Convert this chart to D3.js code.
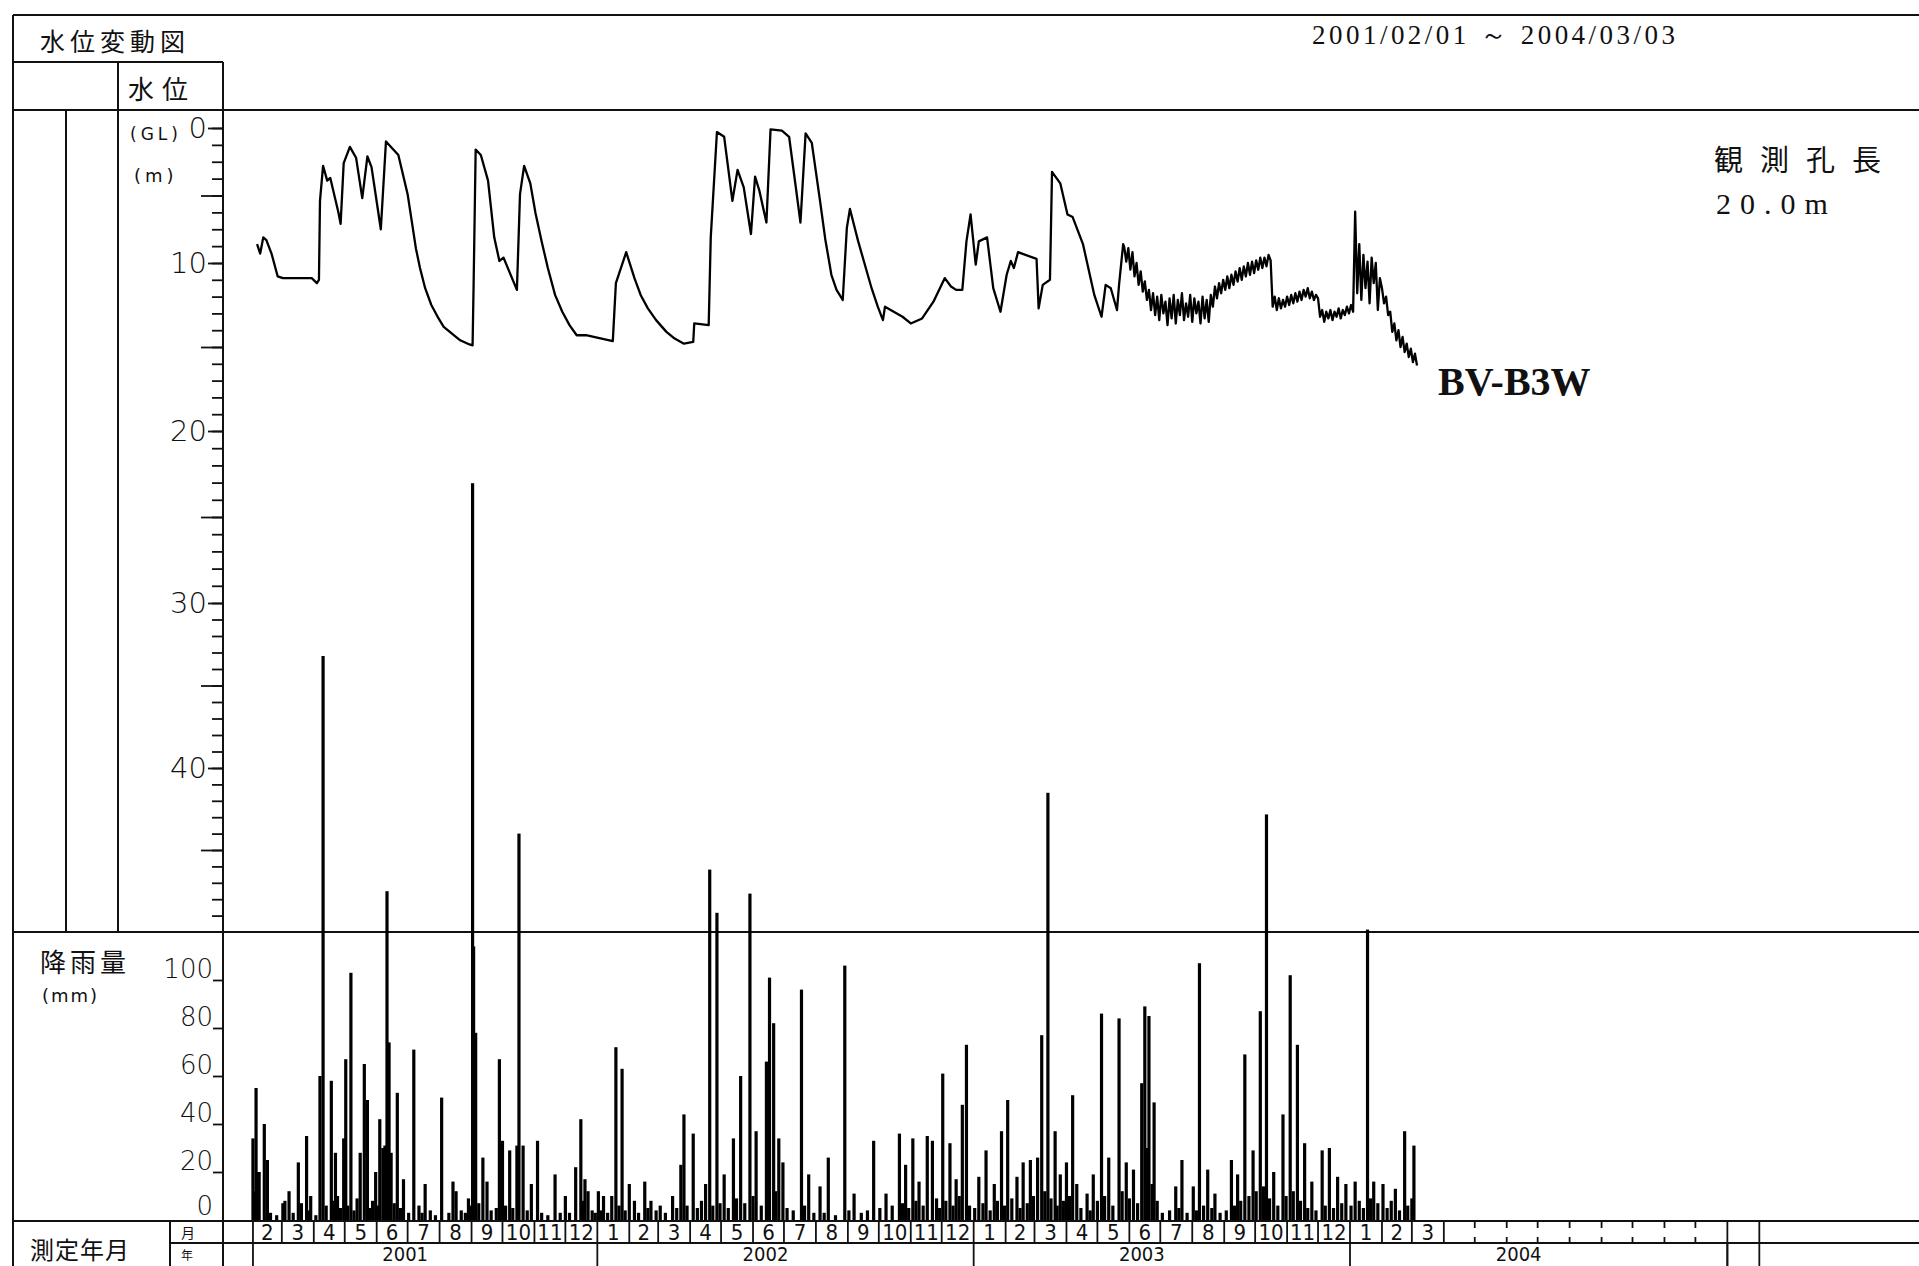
<!DOCTYPE html>
<html>
<head>
<meta charset="utf-8">
<script src="https://cdn.jsdelivr.net/npm/d3@7"></script>
<style>
  html, body { margin: 0; padding: 0; background: #fff; }
  svg { display: block; }
  .jp { font-family: "Noto Sans CJK JP", sans-serif; fill: #111; }
  .num { font-family: "DejaVu Sans", sans-serif; font-weight: 200; fill: #111; }
  .cond { font-family: "DejaVu Sans Condensed", "DejaVu Sans", sans-serif; fill: #111; }
</style>
</head>
<body>
<svg id="chart" width="1919" height="1266"></svg>
<script>
// 水位変動図 BV-B3W : 水位 (GL-m) と 日降雨量 (mm)

// 水位 (深度 m) 読み取り値 2001/02 - 2003/05
const levelPoints = [
  ["2001-02-05", 8.6], ["2001-02-08", 9.3], ["2001-02-11", 8.1], ["2001-02-14", 8.3], ["2001-02-19", 9.3],
  ["2001-02-25", 10.8], ["2001-03-02", 10.9], ["2001-03-30", 10.9], ["2001-04-04", 11.2], ["2001-04-06", 11.0],
  ["2001-04-07", 5.4], ["2001-04-10", 2.8], ["2001-04-14", 3.9], ["2001-04-17", 3.7], ["2001-04-25", 6.3],
  ["2001-04-27", 7.1], ["2001-04-30", 2.6], ["2001-05-06", 1.4], ["2001-05-12", 2.2], ["2001-05-18", 5.2],
  ["2001-05-23", 2.1], ["2001-05-27", 2.9], ["2001-06-05", 7.5], ["2001-06-10", 1.0], ["2001-06-16", 1.5],
  ["2001-06-22", 2.0], ["2001-07-01", 4.9], ["2001-07-05", 6.9], ["2001-07-09", 8.9], ["2001-07-13", 10.3],
  ["2001-07-18", 11.5], ["2001-07-24", 12.5], ["2001-07-31", 13.3], ["2001-08-05", 13.8], ["2001-08-13", 14.2],
  ["2001-08-21", 14.6], ["2001-08-30", 14.85], ["2001-09-02", 14.9], ["2001-09-03", 11.3], ["2001-09-05", 1.6],
  ["2001-09-10", 2.0], ["2001-09-17", 3.9], ["2001-09-23", 8.1], ["2001-09-28", 9.85], ["2001-10-02", 9.6],
  ["2001-10-15", 11.6], ["2001-10-18", 4.9], ["2001-10-22", 2.8], ["2001-10-28", 4.1], ["2001-11-02", 6.3],
  ["2001-11-08", 8.4], ["2001-11-14", 10.3], ["2001-11-21", 11.9], ["2001-11-28", 12.9], ["2001-12-05", 13.7],
  ["2001-12-12", 14.3], ["2001-12-21", 14.3], ["2002-01-16", 14.65], ["2002-01-19", 11.2], ["2002-01-29", 9.2],
  ["2002-02-06", 10.9], ["2002-02-12", 11.9], ["2002-02-19", 12.7], ["2002-02-27", 13.4], ["2002-03-09", 14.1],
  ["2002-03-17", 14.5], ["2002-03-26", 14.8], ["2002-04-04", 14.7], ["2002-04-05", 13.6], ["2002-04-19", 13.7],
  ["2002-04-21", 8.1], ["2002-04-27", 0.3], ["2002-05-04", 0.65], ["2002-05-12", 5.4], ["2002-05-17", 3.1],
  ["2002-05-23", 4.4], ["2002-05-30", 7.85], ["2002-06-03", 3.6], ["2002-06-07", 4.6], ["2002-06-14", 7.0],
  ["2002-06-18", 0.1], ["2002-06-29", 0.2], ["2002-07-06", 0.65], ["2002-07-12", 4.1], ["2002-07-17", 7.0],
  ["2002-07-22", 0.4], ["2002-07-28", 1.1], ["2002-08-05", 5.4], ["2002-08-10", 8.2], ["2002-08-16", 10.7],
  ["2002-08-21", 11.6], ["2002-08-27", 12.2], ["2002-08-31", 7.4], ["2002-09-03", 6.0], ["2002-09-11", 8.4],
  ["2002-09-17", 10.0], ["2002-09-24", 11.5], ["2002-09-30", 12.6], ["2002-10-05", 13.4], ["2002-10-07", 12.6],
  ["2002-10-24", 13.2], ["2002-11-01", 13.6], ["2002-11-12", 13.3], ["2002-11-23", 12.3], ["2002-12-04", 10.9],
  ["2002-12-10", 11.4], ["2002-12-15", 11.6], ["2002-12-21", 11.6], ["2002-12-25", 8.4], ["2002-12-29", 6.4],
  ["2003-01-03", 10.1], ["2003-01-06", 8.4], ["2003-01-14", 8.1], ["2003-01-20", 11.5], ["2003-01-27", 12.9],
  ["2003-02-02", 10.7], ["2003-02-06", 9.85], ["2003-02-09", 10.3], ["2003-02-13", 9.2], ["2003-03-03", 9.7],
  ["2003-03-05", 12.7], ["2003-03-09", 11.3], ["2003-03-16", 11.0], ["2003-03-18", 3.25], ["2003-03-26", 4.1],
  ["2003-04-02", 6.4], ["2003-04-07", 6.6], ["2003-04-17", 8.6], ["2003-04-28", 11.9], ["2003-05-05", 13.2],
  ["2003-05-09", 11.3], ["2003-05-14", 11.5], ["2003-05-20", 12.8], ["2003-05-22", 11.3], ["2003-05-26", 8.6],
];

// 2003/05/27 以降は2日ごとの読み取り値 (変動が大きい区間)
const levelNoiseStart = "2003-05-27";
const levelNoiseStep = 2;
const levelNoise = [
  8.8, 9.9, 8.9, 10.4, 9.2, 10.8, 10.0, 11.3, 10.5, 11.7, 11.1, 12.2, 11.6, 12.8, 11.8, 13.1, 12.0, 13.4, 11.9, 13.0,
  12.3, 13.7, 12.1, 13.3, 11.9, 13.6, 12.2, 13.1, 11.8, 13.4, 12.4, 13.2, 11.9, 13.5, 12.1, 13.0, 12.3, 13.6, 12.0, 13.3,
  12.2, 13.5, 11.9, 12.6, 11.4, 12.1, 11.2, 11.8, 11.0, 11.6, 10.8, 11.5, 10.7, 11.3, 10.5, 11.1, 10.3, 11.0, 10.2, 10.8,
  10.0, 10.7, 9.9, 10.6, 9.8, 10.4, 9.6, 10.3, 9.6, 10.2, 9.4, 9.8, 12.6, 12.0, 12.8, 12.1, 12.7, 12.2, 12.6, 12.0,
  12.5, 11.9, 12.4, 11.8, 12.3, 11.7, 12.2, 11.6, 12.0, 11.5, 12.1, 11.7, 12.2, 11.9, 12.1, 13.2, 12.8, 13.5, 12.9, 13.3,
  12.8, 13.4, 12.9, 13.2, 12.7, 13.3, 12.8, 13.1, 12.6, 13.0, 12.5, 12.9, 6.2, 11.8, 8.6, 12.2, 9.4, 11.5, 9.9, 12.4,
  9.6, 11.2, 10.0, 12.8, 10.9, 11.5, 12.4, 12.0, 13.1, 12.9, 14.1, 13.6, 14.6, 14.0, 15.0, 14.4, 15.3, 14.8, 15.6, 15.1,
  15.9, 15.4, 16.1,
];

// 日降雨量 (mm)
const rainfall = [
  ["2001-02-01", 34], ["2001-02-02", 12], ["2001-02-04", 55], ["2001-02-05", 20], ["2001-02-07", 20], ["2001-02-12", 40],
  ["2001-02-15", 25], ["2001-02-18", 3], ["2001-02-24", 2], ["2001-03-02", 7], ["2001-03-04", 8], ["2001-03-08", 12],
  ["2001-03-12", 3], ["2001-03-17", 24], ["2001-03-20", 7], ["2001-03-25", 35], ["2001-03-27", 4], ["2001-03-29", 10],
  ["2001-04-03", 2], ["2001-04-07", 60], ["2001-04-10", 235], ["2001-04-13", 6], ["2001-04-18", 58], ["2001-04-20", 8],
  ["2001-04-22", 28], ["2001-04-24", 10], ["2001-04-27", 5], ["2001-04-30", 34], ["2001-05-02", 67], ["2001-05-04", 6],
  ["2001-05-07", 103], ["2001-05-10", 4], ["2001-05-13", 9], ["2001-05-16", 28], ["2001-05-20", 65], ["2001-05-23", 50],
  ["2001-05-25", 5], ["2001-05-28", 8], ["2001-05-31", 20], ["2001-06-02", 6], ["2001-06-04", 42], ["2001-06-07", 30],
  ["2001-06-09", 31], ["2001-06-11", 137], ["2001-06-13", 74], ["2001-06-15", 28], ["2001-06-18", 7], ["2001-06-21", 53],
  ["2001-06-24", 5], ["2001-06-27", 17], ["2001-07-02", 3], ["2001-07-07", 71], ["2001-07-12", 6], ["2001-07-15", 3],
  ["2001-07-18", 15], ["2001-07-23", 4], ["2001-07-28", 2], ["2001-08-03", 51], ["2001-08-10", 3], ["2001-08-14", 16],
  ["2001-08-17", 12], ["2001-08-22", 4], ["2001-08-26", 3], ["2001-08-29", 9], ["2001-08-31", 6], ["2001-09-02", 307],
  ["2001-09-03", 114], ["2001-09-05", 78], ["2001-09-08", 7], ["2001-09-12", 26], ["2001-09-16", 16], ["2001-09-20", 4],
  ["2001-09-25", 5], ["2001-09-28", 67], ["2001-10-01", 33], ["2001-10-04", 6], ["2001-10-08", 29], ["2001-10-11", 5],
  ["2001-10-15", 31], ["2001-10-17", 161], ["2001-10-21", 31], ["2001-10-25", 4], ["2001-10-29", 15], ["2001-11-04", 33],
  ["2001-11-08", 3], ["2001-11-14", 2], ["2001-11-21", 19], ["2001-11-26", 3], ["2001-12-01", 10], ["2001-12-05", 3],
  ["2001-12-11", 22], ["2001-12-16", 42], ["2001-12-18", 8], ["2001-12-20", 17], ["2001-12-23", 12], ["2001-12-27", 4],
  ["2001-12-30", 3],
  ["2002-01-02", 12], ["2002-01-05", 4], ["2002-01-07", 10], ["2002-01-11", 3], ["2002-01-15", 10], ["2002-01-19", 72],
  ["2002-01-22", 6], ["2002-01-25", 63], ["2002-01-28", 4], ["2002-02-01", 15], ["2002-02-06", 8], ["2002-02-10", 3],
  ["2002-02-16", 16], ["2002-02-19", 5], ["2002-02-22", 8], ["2002-02-27", 4], ["2002-03-03", 6], ["2002-03-08", 3],
  ["2002-03-15", 10], ["2002-03-19", 5], ["2002-03-23", 23], ["2002-03-26", 44], ["2002-03-29", 6], ["2002-04-04", 36],
  ["2002-04-08", 5], ["2002-04-12", 8], ["2002-04-16", 15], ["2002-04-20", 146], ["2002-04-23", 6], ["2002-04-27", 128],
  ["2002-04-30", 7], ["2002-05-04", 19], ["2002-05-08", 5], ["2002-05-13", 34], ["2002-05-16", 9], ["2002-05-20", 60],
  ["2002-05-24", 7], ["2002-05-29", 136], ["2002-06-01", 10], ["2002-06-04", 37], ["2002-06-09", 6], ["2002-06-14", 66],
  ["2002-06-17", 101], ["2002-06-21", 82], ["2002-06-23", 12], ["2002-06-26", 34], ["2002-06-30", 24], ["2002-07-04", 5],
  ["2002-07-10", 4], ["2002-07-18", 96], ["2002-07-21", 6], ["2002-07-25", 19], ["2002-07-30", 3], ["2002-08-05", 14],
  ["2002-08-09", 3], ["2002-08-13", 26], ["2002-08-20", 2], ["2002-08-29", 106], ["2002-09-02", 4], ["2002-09-07", 11],
  ["2002-09-14", 3], ["2002-09-20", 4], ["2002-09-26", 33], ["2002-10-02", 5], ["2002-10-08", 11], ["2002-10-14", 6],
  ["2002-10-21", 36], ["2002-10-24", 7], ["2002-10-27", 23], ["2002-10-30", 5], ["2002-11-03", 34], ["2002-11-06", 8],
  ["2002-11-09", 16], ["2002-11-13", 6], ["2002-11-17", 35], ["2002-11-22", 33], ["2002-11-26", 9], ["2002-11-29", 5],
  ["2002-12-02", 61], ["2002-12-05", 8], ["2002-12-09", 32], ["2002-12-12", 6], ["2002-12-15", 17], ["2002-12-18", 10],
  ["2002-12-21", 48], ["2002-12-25", 73], ["2002-12-28", 6],
  ["2003-01-02", 5], ["2003-01-06", 18], ["2003-01-10", 7], ["2003-01-13", 29], ["2003-01-17", 4], ["2003-01-21", 15],
  ["2003-01-24", 8], ["2003-01-28", 37], ["2003-01-31", 6], ["2003-02-03", 50], ["2003-02-07", 9], ["2003-02-12", 18],
  ["2003-02-15", 5], ["2003-02-18", 24], ["2003-02-22", 7], ["2003-02-25", 25], ["2003-02-28", 10], ["2003-03-04", 26],
  ["2003-03-08", 77], ["2003-03-11", 12], ["2003-03-14", 178], ["2003-03-17", 9], ["2003-03-21", 37], ["2003-03-23", 6],
  ["2003-03-26", 19], ["2003-03-29", 8], ["2003-04-01", 24], ["2003-04-04", 10], ["2003-04-07", 52], ["2003-04-11", 15],
  ["2003-04-15", 5], ["2003-04-21", 11], ["2003-04-24", 4], ["2003-04-27", 19], ["2003-05-01", 8], ["2003-05-05", 86],
  ["2003-05-08", 10], ["2003-05-12", 26], ["2003-05-16", 6], ["2003-05-22", 84], ["2003-05-25", 12], ["2003-05-29", 24],
  ["2003-06-01", 9], ["2003-06-05", 21], ["2003-06-09", 7], ["2003-06-13", 57], ["2003-06-16", 89], ["2003-06-18", 30],
  ["2003-06-20", 85], ["2003-06-23", 15], ["2003-06-25", 49], ["2003-06-28", 8], ["2003-07-03", 3], ["2003-07-10", 4],
  ["2003-07-16", 14], ["2003-07-19", 5], ["2003-07-22", 25], ["2003-07-27", 3], ["2003-08-02", 14], ["2003-08-05", 4],
  ["2003-08-08", 107], ["2003-08-12", 6], ["2003-08-16", 21], ["2003-08-20", 5], ["2003-08-23", 11], ["2003-08-28", 3],
  ["2003-09-03", 4], ["2003-09-08", 25], ["2003-09-11", 6], ["2003-09-14", 19], ["2003-09-17", 8], ["2003-09-21", 69],
  ["2003-09-25", 10], ["2003-09-29", 29], ["2003-10-02", 12], ["2003-10-06", 87], ["2003-10-09", 14], ["2003-10-12", 169],
  ["2003-10-15", 9], ["2003-10-19", 20], ["2003-10-23", 6], ["2003-10-28", 44], ["2003-10-31", 10], ["2003-11-04", 102],
  ["2003-11-07", 12], ["2003-11-11", 73], ["2003-11-14", 8], ["2003-11-18", 32], ["2003-11-21", 5], ["2003-11-25", 16],
  ["2003-11-29", 4], ["2003-12-05", 29], ["2003-12-08", 6], ["2003-12-12", 30], ["2003-12-16", 5], ["2003-12-20", 18],
  ["2003-12-24", 7], ["2003-12-28", 15],
  ["2004-01-02", 6], ["2004-01-06", 16], ["2004-01-10", 8], ["2004-01-14", 5], ["2004-01-18", 121], ["2004-01-21", 9],
  ["2004-01-24", 16], ["2004-01-28", 7], ["2004-02-02", 15], ["2004-02-06", 5], ["2004-02-10", 8], ["2004-02-14", 13],
  ["2004-02-18", 4], ["2004-02-23", 37], ["2004-02-26", 6], ["2004-03-01", 9], ["2004-03-03", 31],
];

const levelLabels = [0, 10, 20, 30, 40];
const levelLongTicks = [5, 15, 25, 35, 45];
const rainLabels = [0, 20, 40, 60, 80, 100];
const years = [2001, 2002, 2003, 2004];
const periodText = "2001/02/01 ～ 2004/03/03";
const wellName = "BV-B3W";
const wellLength = ["観測孔長", "20.0m"];

const W = 1919;
const parse = d3.timeParse("%Y-%m-%d");
const svg = d3.select("#chart");

// scales
const x = d3.scaleTime().domain([parse("2001-01-01"), parse("2004-01-01")]).range([221, 1350]);
// the printed depth axis is slightly uneven (0-10 shorter), follow it
const yLevel = d3.scaleLinear().domain([0, 10, 20, 30, 40, 50]).range([128, 263, 431, 603, 768, 932]);
const yRain = d3.scaleLinear().domain([0, 100]).range([1220, 980]);

// frame
const frame = svg.append("g").attr("stroke", "#111").attr("stroke-width", 2).attr("fill", "none");
const seg = (x1, y1, x2, y2) => frame.append("line").attr("x1", x1).attr("y1", y1).attr("x2", x2).attr("y2", y2);
seg(13, 15, W, 15);
seg(13, 15, 13, 1266);
seg(13, 62, 223, 62);
seg(13, 110, W, 110);
seg(13, 932, W, 932);
seg(13, 1221, W, 1221);
seg(170, 1243, W, 1243);
seg(66, 110, 66, 932);
seg(118, 62, 118, 932);
seg(223, 62, 223, 1266);
seg(170, 1221, 170, 1266);

// header texts
svg.append("text").attr("class", "jp").attr("x", 40).attr("y", 40).attr("dominant-baseline", "central")
  .attr("font-size", 25).attr("letter-spacing", 5).text("水位変動図");
svg.append("text").attr("class", "jp").attr("x", 128).attr("y", 87).attr("dominant-baseline", "central")
  .attr("font-size", 26).attr("letter-spacing", 8).text("水位");
svg.append("text").attr("x", 1312).attr("y", 44).attr("font-family", "Liberation Serif, serif")
  .attr("font-size", 27).attr("fill", "#111").attr("textLength", 363).attr("lengthAdjust", "spacing")
  .text(periodText);

// depth axis
const minorTicks = d3.range(0, 10, 1.25).concat(d3.range(10, 50, 1));
const axisG = svg.append("g").attr("transform", "translate(223,0)");
axisG.append("g").call(d3.axisLeft(yLevel).tickValues(minorTicks).tickSize(11).tickFormat(""));
axisG.append("g").call(d3.axisLeft(yLevel).tickValues(levelLongTicks).tickSize(22).tickFormat(""));
axisG.append("g").call(d3.axisLeft(yLevel).tickValues(levelLabels).tickSize(15).tickFormat(""));
axisG.selectAll(".domain").remove();
axisG.selectAll("line").attr("stroke", "#111").attr("stroke-width", 1.8);

svg.append("g").selectAll("text").data(levelLabels).join("text")
  .attr("class", "num").attr("x", 207).attr("y", (d) => yLevel(d))
  .attr("text-anchor", "end").attr("dominant-baseline", "central").attr("font-size", 29)
  .text((d) => d);
svg.append("text").attr("x", 130).attr("y", 134).attr("dominant-baseline", "central")
  .attr("font-family", "DejaVu Sans, sans-serif").attr("font-size", 17).attr("letter-spacing", 4)
  .attr("fill", "#111").text("(GL)");
svg.append("text").attr("x", 134).attr("y", 175).attr("dominant-baseline", "central")
  .attr("font-family", "DejaVu Sans, sans-serif").attr("font-size", 18).attr("letter-spacing", 4)
  .attr("fill", "#111").text("(m)");

// rain axis
const rainAxis = svg.append("g").attr("transform", "translate(222,0)")
  .call(d3.axisLeft(yRain).tickValues(rainLabels.filter((d) => d > 0)).tickSize(9).tickFormat(""));
rainAxis.select(".domain").remove();
rainAxis.selectAll("line").attr("stroke", "#111").attr("stroke-width", 1.8);
svg.append("g").selectAll("text").data(rainLabels).join("text")
  .attr("class", "num").attr("x", 213).attr("y", (d) => yRain(d) - (d === 0 ? 5 : 2))
  .attr("text-anchor", "end").attr("font-size", 26).text((d) => d);
svg.append("text").attr("class", "jp").attr("x", 40).attr("y", 960).attr("dominant-baseline", "central")
  .attr("font-size", 26).attr("letter-spacing", 4).text("降雨量");
svg.append("text").attr("x", 42).attr("y", 995).attr("dominant-baseline", "central")
  .attr("font-family", "DejaVu Sans, sans-serif").attr("font-size", 18).attr("letter-spacing", 2)
  .attr("fill", "#111").text("(mm)");

// time axis rows
svg.append("text").attr("class", "jp").attr("x", 30).attr("y", 1248).attr("dominant-baseline", "central")
  .attr("font-size", 24).attr("letter-spacing", 1).text("測定年月");
svg.append("text").attr("class", "jp").attr("x", 181).attr("y", 1232).attr("dominant-baseline", "central")
  .attr("font-size", 14).text("月");
svg.append("text").attr("class", "jp").attr("x", 181).attr("y", 1254).attr("dominant-baseline", "central")
  .attr("font-size", 12).text("年");

const months = d3.timeMonth.range(parse("2001-02-01"), parse("2004-04-01"));
const emptyMonths = d3.timeMonth.range(parse("2004-04-01"), parse("2005-01-01"));
const axisRows = svg.append("g").attr("stroke", "#111").attr("stroke-width", 1.8);
axisRows.append("g").selectAll("line").data(months.concat([parse("2004-04-01")])).join("line")
  .attr("x1", (d) => x(d)).attr("x2", (d) => x(d)).attr("y1", 1221).attr("y2", 1243);
axisRows.append("g").selectAll("line").data(emptyMonths.slice(1)).join("line")
  .attr("x1", (d) => x(d)).attr("x2", (d) => x(d)).attr("y1", 1221).attr("y2", 1228);
axisRows.append("g").selectAll("line").data(emptyMonths.slice(1)).join("line")
  .attr("x1", (d) => x(d)).attr("x2", (d) => x(d)).attr("y1", 1237).attr("y2", 1243);
const yearEdges = [parse("2001-02-01")].concat(d3.timeYear.range(parse("2002-01-01"), parse("2005-01-02")));
axisRows.append("g").selectAll("line").data(yearEdges).join("line")
  .attr("x1", (d) => x(d)).attr("x2", (d) => x(d)).attr("y1", 1243).attr("y2", 1266);
axisRows.append("g").selectAll("line").data([parse("2005-01-01"), parse("2005-02-01")]).join("line")
  .attr("x1", (d) => x(d)).attr("x2", (d) => x(d)).attr("y1", 1221).attr("y2", 1266);

svg.append("g").selectAll("text").data(months).join("text")
  .attr("class", "cond").attr("font-size", 22).attr("text-anchor", "middle")
  .attr("x", (d) => (x(d) + x(d3.timeMonth.offset(d, 1))) / 2).attr("y", 1240)
  .text((d) => d.getMonth() + 1);
svg.append("g").selectAll("text").data(years).join("text")
  .attr("class", "cond").attr("font-size", 20).attr("text-anchor", "middle")
  .attr("x", (d) => {
    const a = d === 2001 ? parse("2001-02-01") : new Date(d, 0, 1);
    return (x(a) + x(new Date(d + 1, 0, 1))) / 2 - 20;
  })
  .attr("y", 1261)
  .text((d) => d);

// rainfall bars
svg.append("g").selectAll("rect").data(rainfall).join("rect")
  .attr("x", (d) => x(parse(d[0])) - 1.6)
  .attr("width", 3.2)
  .attr("y", (d) => yRain(d[1]))
  .attr("height", (d) => yRain(0) - yRain(d[1]))
  .attr("fill", "#000");

// water level line
const noiseStart = parse(levelNoiseStart);
const levelSeries = levelPoints.map((d) => [parse(d[0]), d[1]])
  .concat(levelNoise.map((v, i) => [d3.timeDay.offset(noiseStart, i * levelNoiseStep), v]));
svg.append("path").datum(levelSeries)
  .attr("fill", "none").attr("stroke", "#000").attr("stroke-width", 2.3).attr("stroke-linejoin", "round")
  .attr("d", d3.line().x((d) => x(d[0])).y((d) => yLevel(d[1])));

// labels in plot
svg.append("text").attr("x", 1438).attr("y", 395).attr("font-family", "Liberation Serif, serif")
  .attr("font-weight", "bold").attr("font-size", 40).attr("fill", "#111").text(wellName);
svg.append("text").attr("class", "jp").attr("x", 1714).attr("y", 158).attr("dominant-baseline", "central")
  .attr("font-size", 29).attr("letter-spacing", 17).text(wellLength[0]);
svg.append("text").attr("x", 1716).attr("y", 214).attr("font-family", "Liberation Serif, serif")
  .attr("font-size", 30).attr("letter-spacing", 9).attr("fill", "#111").text(wellLength[1]);
</script>
</body>
</html>
